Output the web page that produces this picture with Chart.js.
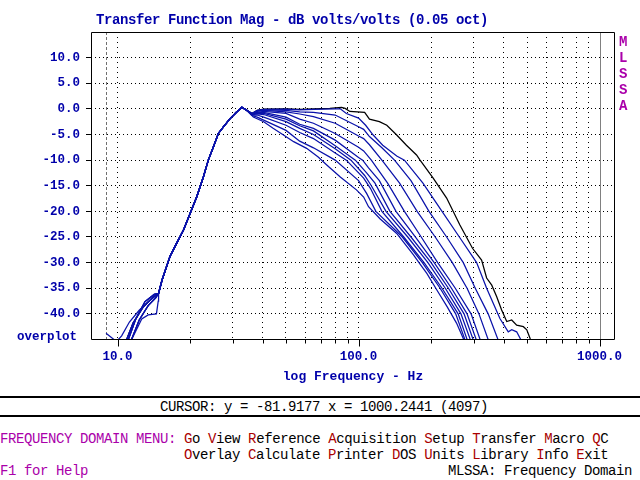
<!DOCTYPE html>
<html>
<head>
<meta charset="utf-8">
<script src="https://cdn.jsdelivr.net/npm/chart.js@4/dist/chart.umd.min.js"></script>
<style>
html,body{margin:0;padding:0;background:#fff;}
#wrap{position:relative;width:640px;height:480px;overflow:hidden;background:#fff;font-family:"Liberation Mono","DejaVu Sans Mono",monospace;}
#c{position:absolute;left:0;top:0;}
.t{position:absolute;white-space:pre;font-size:14px;line-height:16px;letter-spacing:-0.4px;}
.b{color:#0000AA;font-weight:bold;}
.m{color:#AA00AA;}
.r{color:#AA0000;}
.k{color:#000;}
.hl{position:absolute;left:0;width:640px;height:2px;background:#000;}
</style>
</head>
<body>
<div id="wrap">
<canvas id="c" width="640" height="395"></canvas>
<div class="t b" style="left:96px;top:12px;">Transfer Function Mag - dB volts/volts (0.05 oct)</div>
<div class="t m" style="left:619px;top:34px;font-weight:bold;">M<br>L<br>S<br>S<br>A</div>
<div class="t b" style="left:17px;top:329px;font-size:12.5px;letter-spacing:0px;">overplot</div>
<div class="hl" style="top:396px;"></div>
<div class="t k" style="left:160px;top:399px;">CURSOR: y = -81.9177 x = 1000.2441 (4097)</div>
<div class="hl" style="top:415px;"></div>
<div class="t k" style="left:0px;top:431px;"><span class="m">FREQUENCY DOMAIN MENU: </span><span class="r">G</span>o <span class="r">V</span>iew <span class="r">R</span>eference <span class="r">A</span>cquisition <span class="r">S</span>etup <span class="r">T</span>ransfer <span class="r">M</span>acro <span class="r">Q</span>C</div>
<div class="t k" style="left:184px;top:447px;"><span class="r">O</span>verlay <span class="r">C</span>alculate <span class="r">P</span>rinter <span class="r">D</span>OS <span class="r">U</span>nits <span class="r">L</span>ibrary <span class="r">I</span>nfo <span class="r">E</span>xit</div>
<div class="t m" style="left:0px;top:463px;">F1 for Help</div>
<div class="t k" style="left:448px;top:463px;">MLSSA: Frequency Domain</div>
</div>
<script>
// ---- axis definitions ----
const xTicks = [10,20,30,40,50,60,70,80,90,100,200,300,400,500,600,700,800,900,1000];
const xMajor = [10,100,1000];
const yTicks = [10,5,0,-5,-10,-15,-20,-25,-30,-35,-40];
const xRange = [7.76, 1159];
const yRange = [-45.1, 15];
const markerFreq = 8.96;
const cursorFreq = 1000;

// ---- low-frequency starts (Hz, dB) ----
const lowThin = [[8.96,-43.8],[9.9,-45.4],[10.4,-44.3],[11.2,-41.6],[12.3,-39.3],[13.3,-37.8],[14.3,-36.6]];
const lowA = [[10.5,-47],[11.6,-41.8],[12.8,-38.6],[14.0,-36.8]];
const lowB = [[11.0,-47],[12.3,-41.2],[13.4,-38.4],[14.4,-36.9]];
const lowC = [[10.7,-47],[11.9,-41.0],[13.0,-37.6],[14.2,-36.2]];
const lowDip = [[10.9,-47],[12.6,-41.0],[13.4,-40.2],[14.5,-40.0],[14.75,-37.5]];

// ---- shared rise (Hz, dB) ----
const sharedRise = [[14.8,-36.0],[15.3,-33.4],[16.5,-28.8],[17.6,-26.2],[18.8,-23.6],[20.0,-20.4],[21.3,-17.2],[22.7,-13.3],[23.8,-10.0],[25.0,-7.4],[26.2,-4.8],[27.5,-3.5],[29.3,-1.9],[31.2,-0.6],[32.8,0.3],[34.3,-0.25]];

// ---- high-frequency parts of each curve (Hz, dB) ----
const c0 = [[36.1,-0.9],[38,-0.3],[40.4,-0.05],[50,0],[57,-0.1],[65,0],[76,0.1],[85,0.3],[88,0.1],[92,-0.5],[106,-0.7],[111,-2.0],[122,-2.5],[131,-3.2],[144,-5.1],[158,-7.1],[174,-9],[180,-10],[204,-13.5],[232,-17.4],[263,-22.6],[297,-27.2],[324,-29.5],[340,-33],[357,-34.4],[374,-36.6],[392,-39.2],[412,-41.5],[432,-41.2],[453,-42.2],[483,-42.5],[499,-43.1],[515,-44.8],[522,-47]];
const c1 = [[36.1,-0.9],[38,-0.3],[40.4,-0.1],[50,-0.05],[57,-0.2],[65,-0.1],[80,0],[84,0],[89,-0.9],[100,-1.8],[107,-3.2],[115,-5.1],[126,-7.1],[144,-9.2],[155,-10],[185,-14.5],[222,-20],[262,-25],[309,-30],[340,-35],[386,-40.9],[418,-43.5],[432,-43.1],[453,-43.5],[477,-45.5],[485,-47]];
const c2 = [[36.1,-0.9],[38,-0.4],[40.4,-0.2],[50,-0.3],[57,-0.6],[65,-0.7],[80,-1.2],[100,-3.5],[105,-4.0],[111,-5.4],[125,-7.6],[141,-10],[165,-14],[196,-20],[232,-25],[272,-30],[305,-35],[345,-40],[386,-46],[392,-47]];
const c3 = [[36.1,-0.9],[38,-0.5],[40.4,-0.3],[50,-0.6],[57,-1.0],[65,-1.5],[80,-2.8],[100,-5.3],[105,-5.8],[111,-7.0],[125,-10],[148,-14.5],[175,-20],[208,-25],[245,-30],[282,-35],[316,-40],[351,-46],[356,-47]];
const c4 = [[36.1,-1.0],[38,-0.7],[40.4,-0.5],[50,-0.9],[57,-2.0],[65,-2.8],[80,-4.8],[100,-7.5],[105,-8.2],[113,-10],[132,-14.5],[155,-20],[182,-25],[213,-30],[252,-35],[293,-40],[325,-46],[330,-47]];
const c5 = [[36.1,-1.0],[38,-0.8],[40.4,-0.7],[50,-1.6],[57,-3.0],[65,-3.8],[80,-6.1],[100,-9.5],[104,-10],[110,-11.5],[122,-14],[143,-20],[172,-25],[206,-30],[243,-35],[282,-40],[313,-46],[318,-47]];
const c6 = [[36.1,-1.1],[38,-0.9],[40.4,-0.9],[50,-2.0],[57,-3.3],[65,-4.3],[80,-7.2],[97,-10],[108,-12.5],[117,-14.5],[135,-20],[165,-25],[200,-30],[236,-35],[274,-40],[304,-46],[309,-47]];
const c7 = [[36.1,-1.1],[38,-1.0],[40.4,-1.1],[50,-2.5],[57,-3.8],[65,-5.0],[80,-7.8],[93,-10],[106,-13],[113,-15],[130,-20],[160,-25],[194,-30],[229,-35],[266,-40],[296,-46],[301,-47]];
const c8 = [[36.1,-1.2],[38,-1.2],[40.4,-1.6],[50,-3.2],[57,-4.6],[65,-5.8],[80,-8.6],[89,-10],[105,-13.5],[112,-15.5],[125,-20],[154,-25],[187,-30],[222,-35],[259,-40],[287,-46],[292,-47]];
const c9 = [[36.1,-1.3],[38,-1.6],[40.4,-2.2],[50,-4.2],[57,-6.3],[65,-7.6],[80,-10],[100,-14],[108,-16.5],[118,-20],[152,-25],[184,-30],[218,-35],[253,-40],[281,-46],[286,-47]];
const c10 = [[36.6,-1.6],[40.4,-2.5],[44.2,-3.8],[48.8,-5.1],[53.8,-6.4],[60.9,-7.7],[68,-9.4],[74,-11],[84,-13.3],[98,-15.8],[105,-17.2],[110,-19.1],[123,-21.5],[144,-24.3],[169,-28.5],[180,-30.3],[192,-32.1],[211,-35.3],[233,-38.6],[255,-41.8],[272,-44.8],[280,-46.5]];

const BLUE = '#0A12AA';
const curves = [
  {low: lowB, high: c1, color: BLUE},
  {low: lowC, high: c2, color: BLUE},
  {low: lowA, high: c3, color: BLUE},
  {low: lowB, high: c4, color: BLUE},
  {low: lowThin, high: c5, color: BLUE},
  {low: lowC, high: c6, color: BLUE},
  {low: lowDip, high: c7, color: BLUE},
  {low: lowA, high: c8, color: BLUE},
  {low: lowB, high: c9, color: BLUE},
  {low: lowC, high: c10, color: BLUE},
  {low: lowA, high: c0, color: '#000000', order: 100}
];

const datasets = curves.map((c, i) => ({
  data: c.low.concat(sharedRise, c.high).map(p => ({x: p[0], y: p[1]})),
  borderColor: c.color,
  borderWidth: 1.25,
  pointRadius: 0,
  fill: false,
  tension: 0,
  order: c.order || i
}));

const monoBold = {family: '"Liberation Mono", "DejaVu Sans Mono", monospace', size: 12.5, weight: 'bold'};

const framePlugin = {
  id: 'frame',
  beforeDatasetsDraw(chart) {
    const {ctx, chartArea: a, scales: {x}} = chart;
    ctx.save();
    ctx.lineWidth = 1;
    ctx.strokeStyle = '#707070';
    ctx.setLineDash([3, 2]);
    let px = Math.round(x.getPixelForValue(markerFreq)) + 0.5;
    ctx.beginPath(); ctx.moveTo(px, a.top); ctx.lineTo(px, a.bottom); ctx.stroke();
    ctx.setLineDash([]);
    ctx.strokeStyle = '#808080';
    px = Math.round(x.getPixelForValue(cursorFreq)) + 0.5;
    ctx.beginPath(); ctx.moveTo(px, a.top); ctx.lineTo(px, a.bottom); ctx.stroke();
    ctx.restore();
  },
  afterDraw(chart) {
    const {ctx, chartArea: a, scales: {x}} = chart;
    ctx.save();
    ctx.lineWidth = 1;
    ctx.strokeStyle = '#000';
    ctx.setLineDash([]);
    const l = Math.round(a.left) + 0.5, t = Math.round(a.top) + 0.5;
    const r = Math.round(a.right) - 0.5, b = Math.round(a.bottom) - 0.5;
    ctx.beginPath();
    ctx.moveTo(l, t); ctx.lineTo(r, t); ctx.lineTo(r, b); ctx.lineTo(l, b); ctx.closePath();
    xTicks.forEach(v => {
      const px = Math.round(x.getPixelForValue(v)) + 0.5;
      const len = xMajor.includes(v) ? 7 : 4;
      ctx.moveTo(px, b); ctx.lineTo(px, b + len);
    });
    ctx.stroke();
    ctx.restore();
  }
};

new Chart(document.getElementById('c'), {
  type: 'line',
  data: {datasets},
  options: {
    responsive: false,
    animation: false,
    devicePixelRatio: 1,
    layout: {padding: {left: 0, top: 32, right: 25, bottom: 0}},
    plugins: {legend: {display: false}, tooltip: {enabled: false}, title: {display: false}},
    scales: {
      x: {
        type: 'logarithmic',
        min: xRange[0],
        max: xRange[1],
        afterBuildTicks: s => { s.ticks = xTicks.map(v => ({value: v})); },
        afterFit: s => { s.height = 55; },
        grid: {
          color: c => (c.tick && c.tick.value === cursorFreq) ? 'rgba(0,0,0,0)' : '#000',
          lineWidth: 1,
          drawTicks: false
        },
        border: {display: false, dash: [1, 4]},
        ticks: {
          autoSkip: false, maxRotation: 0, minRotation: 0, padding: 9,
          color: '#0000AA', font: monoBold,
          callback: v => xMajor.includes(v) ? v.toFixed(1) : ''
        },
        title: {
          display: true, text: 'log Frequency - Hz', color: '#0000AA',
          font: {family: '"Liberation Mono", "DejaVu Sans Mono", monospace', size: 13, weight: 'bold'},
          padding: {top: 0, bottom: 10}
        }
      },
      y: {
        min: yRange[0],
        max: yRange[1],
        afterBuildTicks: s => { s.ticks = yTicks.map(v => ({value: v})); },
        afterFit: s => { s.width = 91; },
        grid: {color: '#000', lineWidth: 1, drawTicks: true, tickLength: 5, tickColor: '#000', tickBorderDash: []},
        border: {display: false, dash: [1, 3]},
        ticks: {padding: 6, color: '#0000AA', font: monoBold, callback: v => Number(v).toFixed(1)}
      }
    }
  },
  plugins: [framePlugin]
});
</script>
</body>
</html>
